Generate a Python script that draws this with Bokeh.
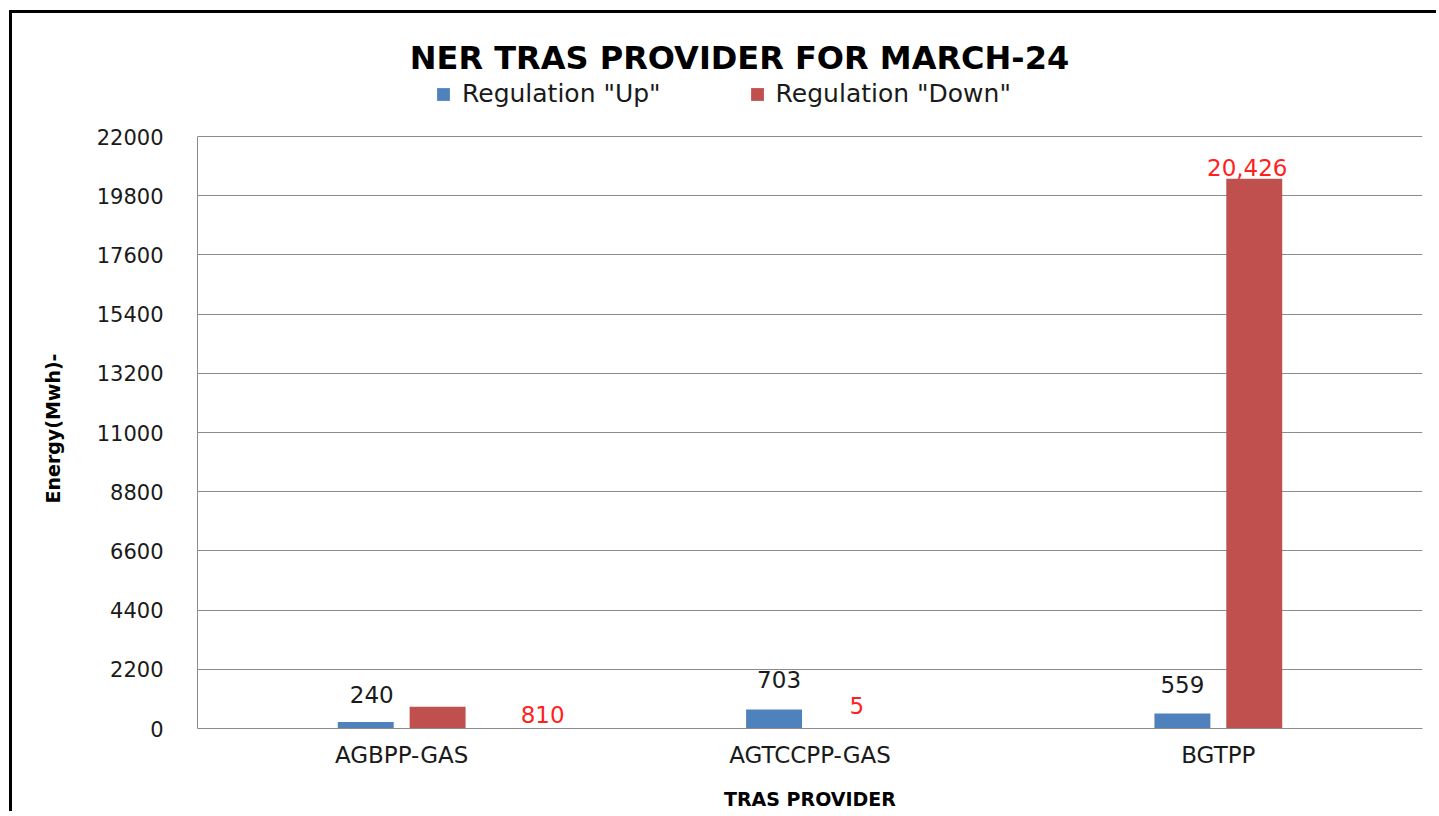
from bokeh.plotting import figure
from bokeh.models import (ColumnDataSource, FactorRange, Range1d, FixedTicker,
                          Legend, LegendItem, Label, Title)
from bokeh.transform import dodge
from bokeh.core.properties import value
from bokeh.embed import file_html
from bokeh.resources import INLINE

# ---- data ----
categories = ["AGBPP-GAS", "AGTCCPP-GAS", "BGTPP"]
reg_up = [240, 703, 559]
reg_down = [810, 5, 20426]
up_labels = ["240", "703", "559"]
down_labels = ["810", "5", "20,426"]
y_ticks = [0, 2200, 4400, 6600, 8800, 11000, 13200, 15400, 17600, 19800, 22000]
y_max = 22000

# label nudges (pixels) as placed in the original chart
up_dx = [6, 5, 0]
up_dy = [-28, -30, -29]
down_dx = [105, 11, -7]
down_dy = [8, -23, -11]

FONT = "DejaVu Sans"
BLUE = "#4F81BD"
RED = "#C0504D"
GRID = "#8C8C8C"

# layout geometry (pixels): plot frame spans the whole chart height so that the
# title and legend (drawn inside it) are not clipped; the value axis covers 0..y_max
CANVAS_TOP = 13
FRAME_BOTTOM = 728
AXIS_TOP = 136
y_end = y_max * (FRAME_BOTTOM - CANVAS_TOP) / (FRAME_BOTTOM - AXIS_TOP)

src_up = ColumnDataSource(dict(cat=categories, val=reg_up, lab=up_labels, dx=up_dx, dy=up_dy))
src_down = ColumnDataSource(dict(cat=categories, val=reg_down, lab=down_labels, dx=down_dx, dy=down_dy))

p = figure(width=1427, height=801, output_backend="svg", toolbar_location=None,
           x_range=FactorRange(*categories, range_padding=0),
           y_range=Range1d(0, y_end),
           min_border_left=185, min_border_right=17, min_border_top=0, min_border_bottom=86,
           styles={"border-left": "3px solid #000", "border-top": "3px solid #000",
                   "margin-left": "9px", "margin-top": "10px"})
p.x_range.factor_padding = 0

r_up = p.vbar(x=dodge("cat", -0.088, range=p.x_range), top="val", width=0.137,
              source=src_up, fill_color=BLUE, line_color=None)
r_down = p.vbar(x=dodge("cat", 0.088, range=p.x_range), top="val", width=0.137,
                source=src_down, fill_color=RED, line_color=None)

p.text(x=dodge("cat", -0.088, range=p.x_range), y="val", text="lab", source=src_up,
       x_offset="dx", y_offset="dy", text_align="center", text_baseline="middle",
       text_font=value(FONT), text_font_size="23px", text_color="#1a1a1a")
p.text(x=dodge("cat", 0.088, range=p.x_range), y="val", text="lab", source=src_down,
       x_offset="dx", y_offset="dy", text_align="center", text_baseline="middle",
       text_font=value(FONT), text_font_size="23px", text_color="#FF1F1F")

# axes
p.yaxis.ticker = FixedTicker(ticks=y_ticks)
p.yaxis.bounds = (0, y_max)
p.yaxis.major_label_text_font = FONT
p.yaxis.major_label_text_font_size = "21px"
p.yaxis.major_label_text_color = "#1a1a1a"
p.yaxis.major_tick_line_color = None
p.yaxis.minor_tick_line_color = None
p.yaxis.major_tick_out = 0
p.yaxis.major_label_standoff = 34
p.yaxis.axis_line_color = GRID

# value-axis title, centred on the 0..y_max part of the axis
p.add_layout(Title(text="Energy(Mwh)-", align="left",
                   offset=FRAME_BOTTOM - 503, vertical_align="middle", standoff=57,
                   text_font=FONT, text_font_style="bold", text_font_size="19px",
                   text_color="#000000"), "left")

p.xaxis.major_label_text_font = FONT
p.xaxis.major_label_text_font_size = "23px"
p.xaxis.major_label_text_color = "#1a1a1a"
p.xaxis.major_tick_line_color = None
p.xaxis.major_tick_out = 0
p.xaxis.major_label_standoff = 13
p.xaxis.axis_line_color = GRID
p.xaxis.axis_label = "TRAS PROVIDER"
p.xaxis.axis_label_text_font = FONT
p.xaxis.axis_label_text_font_style = "bold"
p.xaxis.axis_label_text_font_size = "19px"
p.xaxis.axis_label_text_color = "#000000"
p.xaxis.axis_label_standoff = 17

p.xgrid.grid_line_color = None
p.ygrid.grid_line_color = GRID
p.ygrid.grid_line_width = 1
p.outline_line_color = None
p.background_fill_color = "white"
p.border_fill_color = "white"

# chart title, centred over the whole chart area
p.add_layout(Label(x=542, y=FRAME_BOTTOM - 57, x_units="screen", y_units="screen",
                   text="NER TRAS PROVIDER FOR MARCH-24", text_align="center",
                   text_baseline="middle", text_font=FONT, text_font_style="bold",
                   text_font_size="32px", text_color="#000000"))

legend = Legend(items=[LegendItem(label='Regulation "Up"', renderers=[r_up]),
                       LegendItem(label='Regulation "Down"', renderers=[r_down])],
                orientation="horizontal", location=(238, 620),
                glyph_width=16, glyph_height=16, label_standoff=11, spacing=88,
                padding=0, margin=0, border_line_color=None,
                background_fill_alpha=0,
                label_text_font=FONT, label_text_font_size="25px",
                label_text_color="#1a1a1a")
p.add_layout(legend, "center")

open("out.html", "w").write(file_html(p, INLINE))
